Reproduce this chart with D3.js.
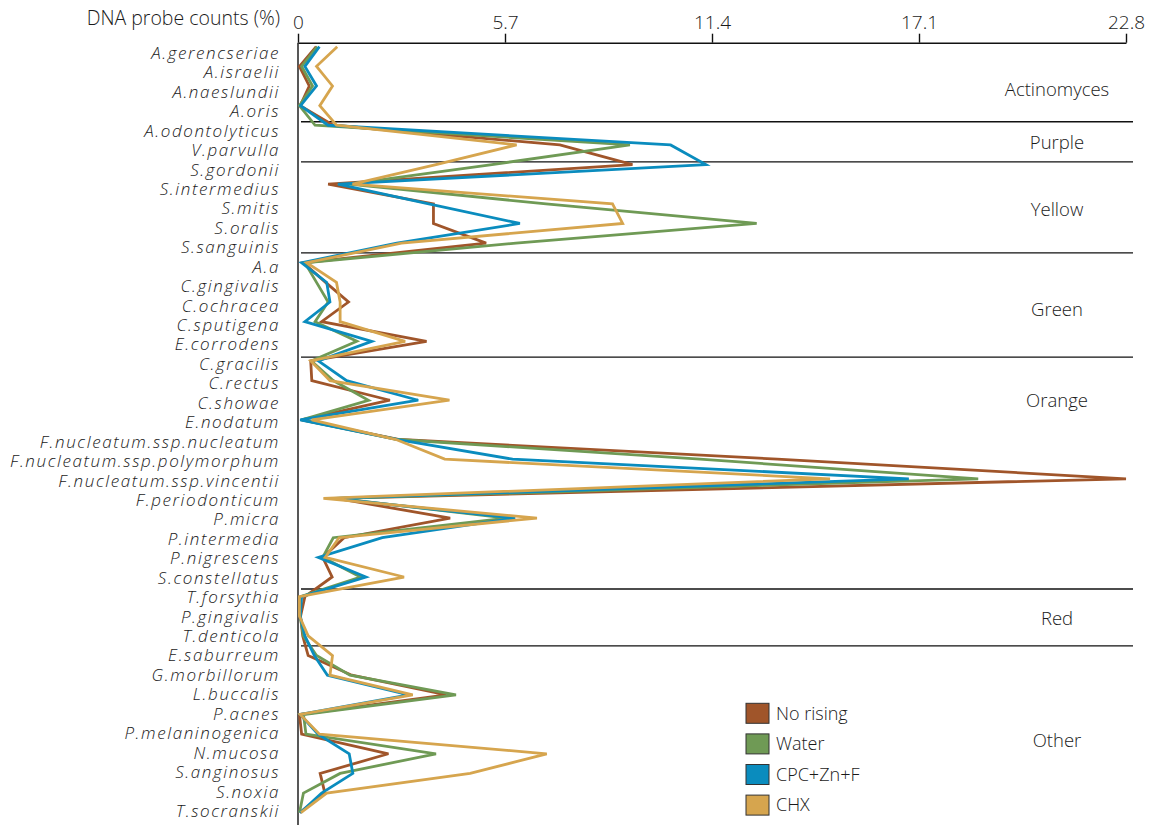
<!DOCTYPE html>
<html lang="en">
<head>
<meta charset="UTF-8">
<script src="https://d3js.org/d3.v7.min.js"></script>
<title>DNA probe counts</title>
<style>
  body { margin: 0; background: #fff; }
  svg { display: block; }
  text { font-family: "Open Sans", Lato, sans-serif; font-weight: 300; fill: #1a1a1a; }
  .species { font-style: italic; font-size: 17px; }
  .axis text { font-size: 19px; }
  .group { font-size: 18.5px; }
  .legend text { font-size: 18px; }
</style>
</head>
<body>
<script>
// categories, top to bottom
const species = [
  'A.gerencseriae', 'A.israelii', 'A.naeslundii', 'A.oris', 'A.odontolyticus',
  'V.parvulla', 'S.gordonii', 'S.intermedius', 'S.mitis', 'S.oralis', 'S.sanguinis',
  'A.a', 'C.gingivalis', 'C.ochracea', 'C.sputigena', 'E.corrodens',
  'C.gracilis', 'C.rectus', 'C.showae', 'E.nodatum',
  'F.nucleatum.ssp.nucleatum', 'F.nucleatum.ssp.polymorphum', 'F.nucleatum.ssp.vincentii',
  'F.periodonticum', 'P.micra', 'P.intermedia', 'P.nigrescens', 'S.constellatus',
  'T.forsythia', 'P.gingivalis', 'T.denticola',
  'E.saburreum', 'G.morbillorum', 'L.buccalis', 'P.acnes', 'P.melaninogenica',
  'N.mucosa', 'S.anginosus', 'S.noxia', 'T.socranskii'
];

// series values (%), same order as species
const noRising = [
  0.50, 0.04, 0.31, 0.06, 0.97, 7.21, 9.21, 0.83, 3.73, 3.73, 5.18,
  0.15, 0.76, 1.39, 0.65, 3.54, 0.35, 0.38, 2.53, 0.10,
  2.80, 13.2, 22.8, 1.06, 4.19, 1.27, 0.68, 0.94,
  0.19, 0.07, 0.13, 0.28, 1.48, 4.09, 0.04, 0.10, 2.49, 0.61, 0.74, 0.05
];
const water = [
  0.53, 0.10, 0.40, 0.04, 0.47, 9.14, 5.34, 1.40, 6.83, 12.63, 6.00,
  0.19, 0.51, 0.83, 0.47, 1.62, 0.37, 0.97, 1.94, 0.10,
  2.75, 11.07, 18.73, 1.10, 5.75, 0.97, 0.68, 1.72,
  0.08, 0.06, 0.15, 0.51, 1.43, 4.35, 0.15, 0.22, 3.80, 1.16, 0.15, 0.04
];
const cpcZnF = [
  0.59, 0.19, 0.51, 0.07, 0.83, 10.26, 11.23, 1.10, 3.60, 6.11, 2.72,
  0.10, 0.79, 0.88, 0.19, 2.03, 0.56, 1.34, 3.31, 0.06,
  2.75, 5.91, 16.82, 1.00, 5.98, 2.32, 0.56, 1.87,
  0.10, 0.06, 0.19, 0.45, 0.81, 3.05, 0.06, 0.55, 1.41, 1.51, 0.65, 0.06
];
const chx = [
  1.08, 0.51, 0.95, 0.60, 1.06, 6.02, 3.80, 1.50, 8.66, 8.94, 2.85,
  0.24, 1.06, 1.16, 1.16, 2.95, 0.35, 0.88, 4.17, 0.38,
  2.70, 4.04, 14.65, 0.70, 6.58, 1.13, 0.75, 2.92,
  0.04, 0.04, 0.28, 0.95, 0.88, 3.16, 0.06, 0.59, 6.85, 4.74, 0.79, 0.08
];

const seriesNames = ['No rising', 'Water', 'CPC+Zn+F', 'CHX'];
const seriesColors = ['#A0552A', '#6F9A55', '#0A8CBE', '#D6A54E'];
const tickValues = [0, 5.7, 11.4, 17.1, 22.8];

// group names, label position and boundary (fractional category index)
const groupNames = ['Actinomyces', 'Purple', 'Yellow', 'Green', 'Orange', 'Red', 'Other'];
const groupLabelAt = [2.2, 4.9, 8.27, 13.4, 17.99, 29.09, 35.35];
const groupBreaks = [3.82, 5.86, 10.5, 15.8, 27.61, 30.51];

const W = 1156, H = 825;
const svg = d3.select('body').append('svg').attr('width', W).attr('height', H);

const x = d3.scaleLinear().domain([0, 22.8]).range([298, 1126]);
const y = d3.scalePoint().domain(species).range([46.7, 812.7]);
const yIdx = d3.scaleLinear().domain([0, species.length - 1]).range(y.range());
// label rows sit slightly apart from the points
const yLab = d3.scalePoint().domain(species).range([53, 811]);

// top axis
const axis = d3.axisTop(x).tickValues(tickValues).tickSize(9).tickSizeOuter(0)
  .tickFormat(d => d3.format('')(d));
const gx = svg.append('g').attr('class', 'axis').attr('transform', 'translate(0,42.7)').call(axis);
gx.select('.domain').attr('stroke', '#111').attr('stroke-width', 1.4);
gx.selectAll('.tick line').attr('stroke', '#111').attr('stroke-width', 1.4);
gx.selectAll('.tick text').attr('y', -20).attr('dy', '0.35em').attr('fill', '#1a1a1a');

svg.append('text').attr('x', 280).attr('y', 18).attr('dy', '0.35em')
  .attr('text-anchor', 'end').style('font-size', '19.5px').text('DNA probe counts (%)');

// vertical axis line
svg.append('line').attr('x1', x(0)).attr('x2', x(0)).attr('y1', 42.7).attr('y2', 825)
  .attr('stroke', '#111').attr('stroke-width', 1.4);

// species labels
const labels = svg.append('g').selectAll('text').data(species).join('text')
  .attr('class', 'species')
  .attr('x', 280).attr('y', d => yLab(d)).attr('dy', '0.35em')
  .attr('text-anchor', 'end').text(d => d);

// widen the labels a little so the longest one spans like the original (~270px)
const longest = labels.filter(d => d === 'F.nucleatum.ssp.polymorphum').node();
const extra = (270 - longest.getComputedTextLength()) / ('F.nucleatum.ssp.polymorphum'.length);
if (extra > 0) labels.style('letter-spacing', extra.toFixed(2) + 'px');

// group separators + labels
svg.append('g').selectAll('line').data(groupBreaks).join('line')
  .attr('x1', 301).attr('x2', 1133)
  .attr('y1', d => yIdx(d)).attr('y2', d => yIdx(d))
  .attr('stroke', '#111').attr('stroke-width', 1.3);

svg.append('g').selectAll('text').data(groupNames).join('text')
  .attr('class', 'group')
  .attr('x', 1057).attr('y', (d, i) => yIdx(groupLabelAt[i])).attr('dy', '0.35em')
  .attr('text-anchor', 'middle').text(d => d);

// lines
const series = [noRising, water, cpcZnF, chx];
const line = d3.line().x(d => x(d[1])).y(d => y(d[0]));
svg.append('g').selectAll('path').data(series).join('path')
  .attr('d', vals => line(species.map((s, i) => [s, vals[i]])))
  .attr('fill', 'none')
  .attr('stroke', (d, i) => seriesColors[i])
  .attr('stroke-width', 2.8)
  .attr('stroke-linejoin', 'miter');

// legend
const lg = svg.append('g').attr('class', 'legend');
const rows = lg.selectAll('g').data(seriesNames).join('g')
  .attr('transform', (d, i) => `translate(746,${713.3 + i * 30.6})`);
rows.append('rect').attr('x', 0).attr('y', -10).attr('width', 23).attr('height', 20)
  .attr('fill', (d, i) => seriesColors[i]).attr('stroke', '#333').attr('stroke-width', 1);
rows.append('text').attr('x', 30).attr('y', 0).attr('dy', '0.35em').text(d => d);
</script>
</body>
</html>
